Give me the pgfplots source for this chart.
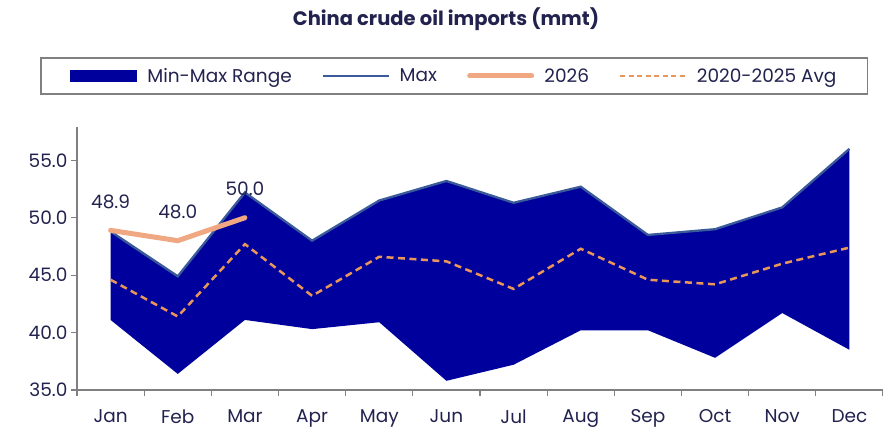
\documentclass[border=0pt]{standalone}
\usepackage{fontspec}
\setmainfont{Poppins}
\usepackage{pgfplots}
\pgfplotsset{compat=1.18}
\usepgfplotslibrary{fillbetween}
\definecolor{fillblue}{HTML}{00009C}
\definecolor{maxblue}{HTML}{3A5A99}
\definecolor{line26}{HTML}{F0A882}
\definecolor{avgor}{HTML}{E9965B}
\definecolor{txt}{HTML}{22224F}
\definecolor{axgray}{HTML}{808080}
\pgfplotstableread{
x max min avg
0 48.8 41.1 44.6
1 44.9 36.4 41.4
2 52.2 41.1 47.7
3 48.0 40.3 43.2
4 51.5 40.9 46.6
5 53.2 35.8 46.2
6 51.3 37.2 43.8
7 52.7 40.2 47.3
8 48.5 40.2 44.6
9 49.0 37.8 44.2
10 50.9 41.7 46.0
11 56.0 38.5 47.4
}\histtab
\pgfplotstableread{
x y
0 48.9
1 48.0
2 50.0
}\curtab
\begin{document}
\begin{tikzpicture}
\node[text=txt, font=\fontsize{19.5}{23}\selectfont\bfseries] at (446pt,411pt) {China crude oil imports (mmt)};
\begin{axis}[at={(77pt,40pt)}, anchor=south west, scale only axis,
  width=806pt, height=263pt,
  xmin=-0.5, xmax=11.5, ymin=35, ymax=57.9,
  axis x line*=bottom, axis y line*=left,
  axis line style={axgray, line width=1.2pt},
  tick style={axgray, line width=1.2pt},
  xtick={0,...,11},
  xticklabels={Jan,Feb,Mar,Apr,May,Jun,Jul,Aug,Sep,Oct,Nov,Dec},
  major x tick style={draw=none},
  minor xtick={-0.5,0.5,...,11.5},
  tick align=outside, major tick length=6pt, minor tick length=6pt,
  ytick={35,40,45,50,55},
  yticklabel style={/pgf/number format/.cd, fixed, fixed zerofill, precision=1, assume math mode=true},
  ticklabel style={text=txt, font=\fontsize{18.5}{22}\selectfont},
  xticklabel style={yshift=-10pt},
  legend style={at={(0.468,1.194)}, anchor=center, legend columns=4,
    draw=axgray, line width=1.5pt, text=txt, font=\fontsize{18.5}{22}\selectfont,
    inner xsep=29pt, inner ysep=8pt,
    /tikz/every even column/.append style={column sep=28pt}},
  legend cell align=left,
]
\addlegendimage{legend image code/.code={\fill[fillblue] (0pt,-5.5pt) rectangle (66pt,5.5pt); \path (74pt,0pt);}}
\addlegendentry{Min-Max Range}
\addlegendimage{legend image code/.code={\draw[maxblue, line width=2.3pt] (0pt,0pt) -- (66pt,0pt); \path (74pt,0pt);}}
\addlegendentry{Max}
\addlegendimage{legend image code/.code={\draw[line26, line width=5pt, line cap=round] (2pt,0pt) -- (64pt,0pt); \path (0pt,0pt) (74pt,0pt);}}
\addlegendentry{2026}
\addlegendimage{legend image code/.code={\draw[avgor, line width=2.3pt, dash pattern=on 5pt off 3.5pt] (0pt,0pt) -- (66pt,0pt); \path (74pt,0pt);}}
\addlegendentry{2020-2025 Avg}

\addplot[name path=maxp, draw=none, forget plot] table[x=x, y=max] {\histtab};
\addplot[name path=minp, draw=none, forget plot] table[x=x, y=min] {\histtab};
\addplot[fill=fillblue, draw=none, forget plot] fill between[of=maxp and minp];
\addplot[maxblue, line width=2.3pt, forget plot] table[x=x, y=max] {\histtab};
\addplot[avgor, line width=2.5pt, dash pattern=on 7pt off 4.5pt, forget plot] table[x=x, y=avg] {\histtab};
\addplot[line26, line width=5pt, line cap=round, line join=round, forget plot,
  nodes near coords, nodes near coords style={text=txt, font=\fontsize{18.5}{22}\selectfont, anchor=south, yshift=16pt, /pgf/number format/.cd, fixed, fixed zerofill, precision=1, assume math mode=true}] table[x=x, y=y] {\curtab};
\end{axis}
\pgfresetboundingbox
\path[use as bounding box] (0pt,0pt) rectangle (883pt,430pt);
\end{tikzpicture}
\end{document}
